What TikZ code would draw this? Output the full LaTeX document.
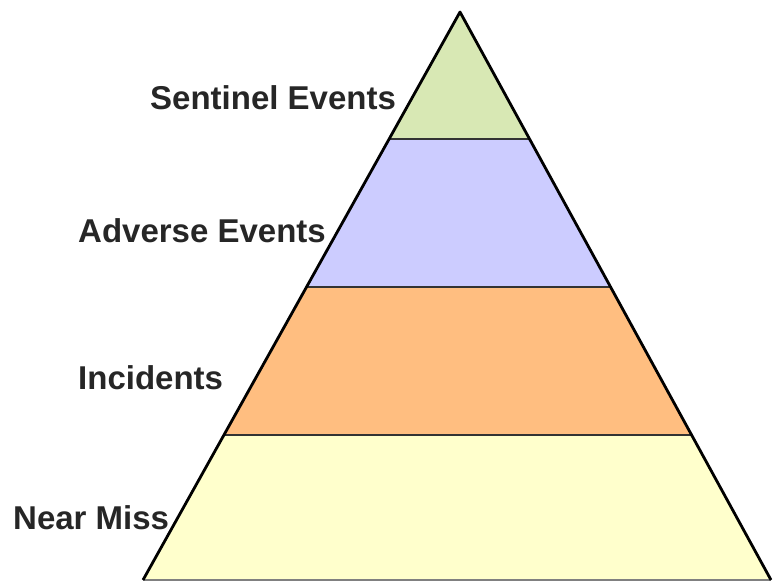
\documentclass[tikz,border=0pt]{standalone}
\usepackage{fontspec}
\setmainfont{Liberation Sans}
\usetikzlibrary{calc}

\definecolor{sentinelgreen}{RGB}{216,232,180}
\definecolor{adverseblue}{RGB}{204,204,255}
\definecolor{incidentorange}{RGB}{255,190,128}
\definecolor{nearyellow}{RGB}{255,255,204}

\begin{document}
\begin{tikzpicture}[x = 1pt, y = -1pt,
    label/.style = { anchor = west, inner sep = 0pt, font = \fontsize{33}{36}\selectfont\bfseries, text = black!85 },
    band/.style = { draw = black!80, line width = 1.2pt }]
  \useasboundingbox (0,0) rectangle (775,582);
  \coordinate (apex) at (460,12);
  \coordinate (bl) at (143,580);
  \coordinate (br) at (771,580);
  % band corners
  \coordinate (l1) at ($(apex)!0.2236!(bl)$);
  \coordinate (r1) at ($(apex)!0.2236!(br)$);
  \coordinate (l2) at ($(apex)!0.4842!(bl)$);
  \coordinate (r2) at ($(apex)!0.4842!(br)$);
  \coordinate (l3) at ($(apex)!0.7447!(bl)$);
  \coordinate (r3) at ($(apex)!0.7447!(br)$);
  \fill [sentinelgreen] (apex) -- (r1) -- (l1) -- cycle;
  \fill [adverseblue] (l1) -- (r1) -- (r2) -- (l2) -- cycle;
  \fill [incidentorange] (l2) -- (r2) -- (r3) -- (l3) -- cycle;
  \fill [nearyellow] (l3) -- (r3) -- (br) -- (bl) -- cycle;
  \draw [band] (l1) -- (r1);
  \draw [band] (l2) -- (r2);
  \draw [band] (l3) -- (r3);
  \draw [black!50, line width = 1.5pt] (bl) -- (br);
  \draw [line width = 2.8pt, line join = round] (bl) -- (apex) -- (br);
  \node [label] (sentinel) at (150,98) { Sentinel Events };
  \node [label] (adverse) at (78,231) { Adverse Events };
  \node [label] (incidents) at (78,378) { Incidents };
  \node [label] (nearmiss) at (13,518) { Near Miss };
\end{tikzpicture}
\end{document}
